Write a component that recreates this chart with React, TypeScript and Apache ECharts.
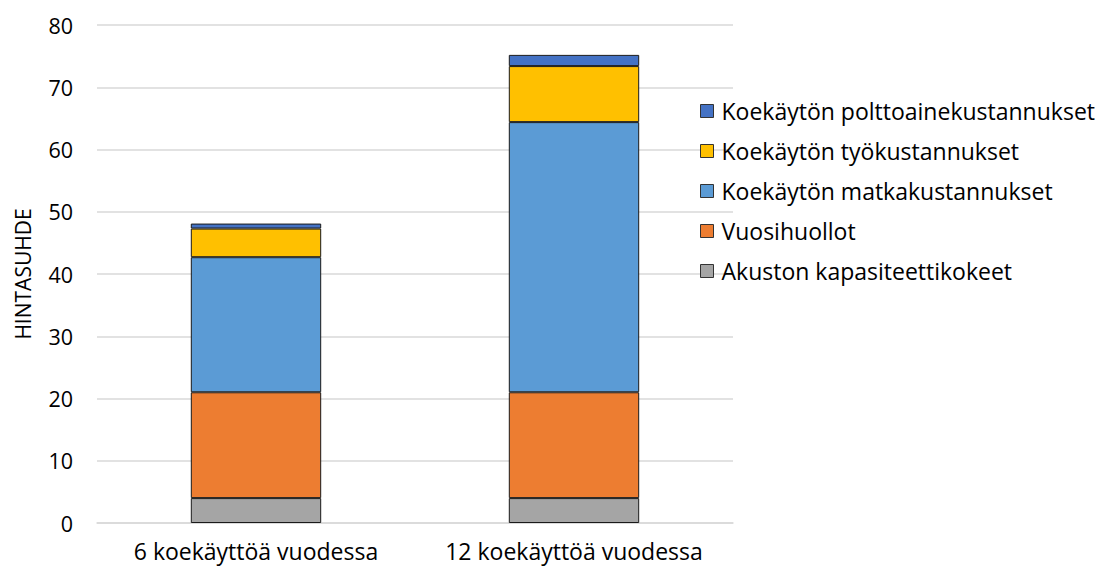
import React, { useEffect, useRef } from "react";
import * as echarts from "echarts";

const categories = ["6 koekäyttöä vuodessa", "12 koekäyttöä vuodessa"];
const akusto = [4, 4];
const vuosihuollot = [17, 17];
const matka = [21.7, 43.4];
const tyo = [4.6, 9.0];
const polttoaine = [0.8, 1.8];
const yTicks = { min: 0, max: 80, interval: 10 };
const yTitle = "HINTASUHDE";

const seriesDefs = [
  { name: "Akuston kapasiteettikokeet", data: akusto, color: "#a5a5a5" },
  { name: "Vuosihuollot", data: vuosihuollot, color: "#ed7d31" },
  { name: "Koekäytön matkakustannukset", data: matka, color: "#5b9bd5" },
  { name: "Koekäytön työkustannukset", data: tyo, color: "#ffc000" },
  { name: "Koekäytön polttoainekustannukset", data: polttoaine, color: "#4472c4" },
];

const FONT = "'Open Sans', sans-serif";

export default function App() {
  const ref = useRef<HTMLDivElement>(null);
  useEffect(() => {
    if (!ref.current) return;
    const chart = echarts.init(ref.current, null, { renderer: "svg" });
    chart.setOption({
      animation: false,
      backgroundColor: "#ffffff",
      textStyle: { fontFamily: FONT },
      grid: { left: 97, right: 380, top: 25, bottom: 46 },
      legend: {
        orient: "vertical",
        left: 700,
        top: 99,
        padding: 0,
        itemWidth: 13,
        itemHeight: 13,
        itemGap: 16,
        icon: "rect",
        data: [...seriesDefs].reverse().map((s) => s.name),
        textStyle: { fontSize: 23, lineHeight: 24, color: "#000", fontFamily: FONT, padding: [0, 0, 0, 3] },
        itemStyle: { borderColor: "#333", borderWidth: 1 },
      },
      xAxis: {
        type: "category",
        data: categories,
        axisLine: { lineStyle: { color: "#d9d9d9", width: 1.5 } },
        axisTick: { show: false },
        axisLabel: { fontSize: 23, lineHeight: 26, color: "#000", margin: 15, interval: 0, fontFamily: FONT },
      },
      yAxis: {
        type: "value",
        min: yTicks.min,
        max: yTicks.max,
        interval: yTicks.interval,
        name: yTitle,
        nameLocation: "middle",
        nameGap: 64,
        nameTextStyle: { fontSize: 21, color: "#000", fontFamily: FONT },
        axisLine: { show: false },
        axisTick: { show: false },
        axisLabel: { fontSize: 21.5, color: "#000", margin: 24, fontFamily: FONT },
        splitLine: { lineStyle: { color: "#d9d9d9", width: 1.5 } },
      },
      series: seriesDefs.map((s) => ({
        name: s.name,
        type: "bar",
        stack: "total",
        data: s.data,
        barWidth: "41%",
        itemStyle: { color: s.color, borderColor: "#1a1a1a", borderWidth: 1 },
      })),
    });
    return () => chart.dispose();
  }, []);
  return (
    <div
      ref={ref}
      style={{ position: "absolute", left: 0, top: 0, width: 1113, height: 569 }}
    />
  );
}
